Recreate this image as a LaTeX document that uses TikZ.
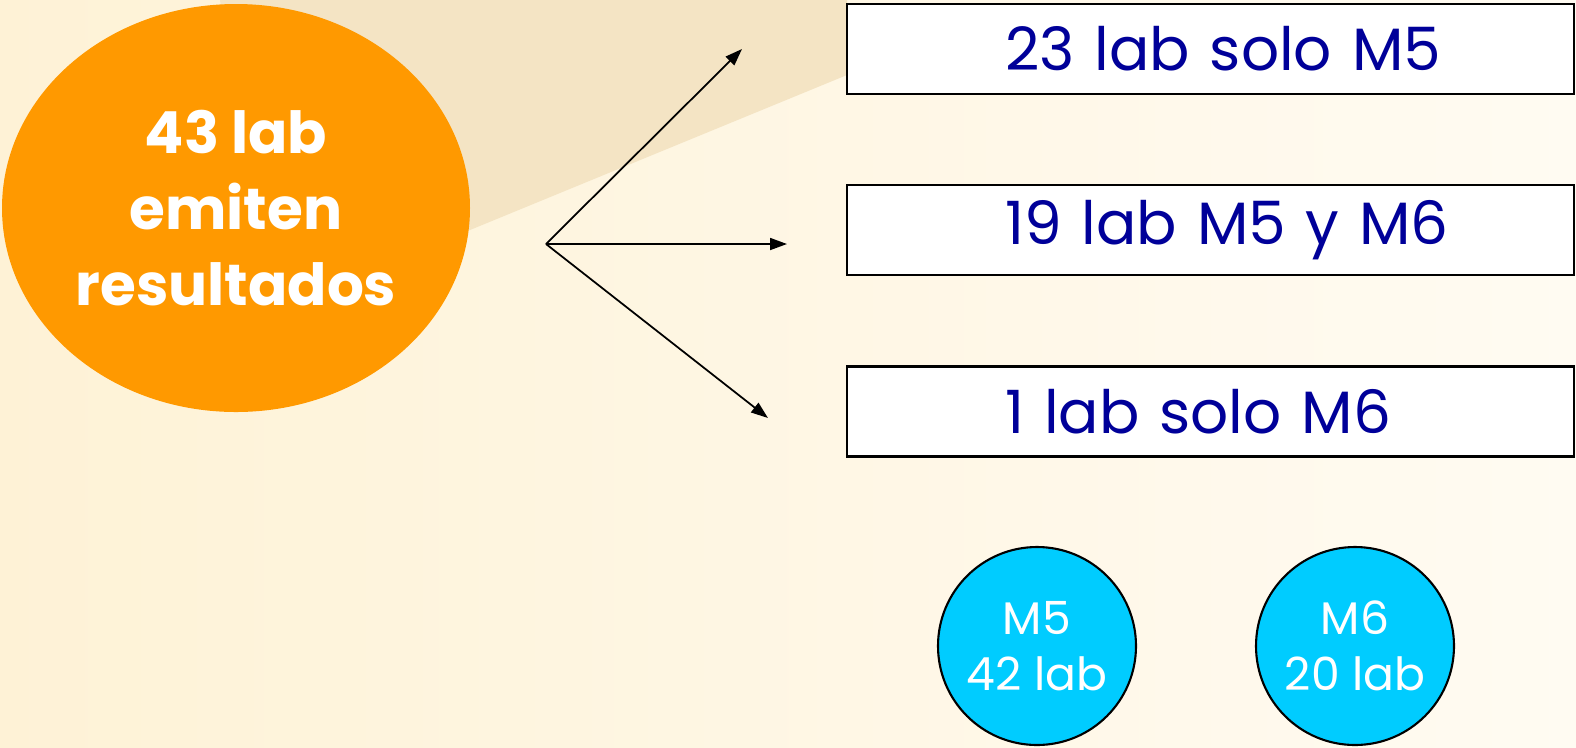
\documentclass[tikz,border=0pt]{standalone}
\usepackage{fontspec}
\setmainfont{Poppins}
\usepackage{tikz}
\usetikzlibrary{arrows.meta, positioning, shapes.geometric}
\usepackage{xcolor}
\definecolor{bgcream}{RGB}{254,242,214}
\definecolor{bgwhite}{RGB}{255,251,242}
\definecolor{bgtan}{RGB}{244,228,196}
\definecolor{orangefill}{RGB}{255,153,0}
\definecolor{labblue}{RGB}{0,0,153}
\definecolor{cyanfill}{RGB}{0,204,255}

\begin{document}
\begin{tikzpicture}[
    labbox/.style={rectangle, draw, fill=white, line width=0.6pt, minimum width=7.27cm, minimum height=0.9cm,
        text width=6.27cm, inner xsep=0.5cm, align=left, text=labblue, font=\fontsize{17}{20}\selectfont,
        execute at begin node={\hspace*{1.08cm}}},
    method/.style={circle, draw, line width=0.6pt, fill=cyanfill, minimum size=1.98cm, inner sep=0pt,
        align=center, text=white, font=\fontsize{13}{16}\selectfont},
    fan/.style={line width=0.5pt, -{Triangle[length=0.17cm, width=0.12cm]}}
]

% Background
\useasboundingbox (0,0) rectangle (15.76,-7.47);
\shade[left color=bgcream, right color=bgwhite] (0,0) rectangle (15.76,-7.47);
\fill[bgtan] (2.2,0) -- (8.47,0) -- (8.47,-0.75) -- (4.7,-2.3) -- (2.6,-2.7) -- cycle;

% Total
\node[ellipse, fill=orangefill, minimum width=4.68cm, minimum height=4.08cm, inner sep=0pt, align=center,
    text=white, font=\bfseries\fontsize{16.5}{21.5}\selectfont] (total) at (2.36,-2.08) {43 lab\\emiten\\resultados};

% Groups
\node[labbox] (solo5) at (12.105,-0.49) {23 lab solo M5};
\node[labbox] (both) at (12.105,-2.30) {19 lab M5 y M6};
\node[labbox] (solo6) at (12.105,-4.115) {1 lab solo M6};

% Methods
\node[method] (m5) at (10.37,-6.46) {M5\\42 lab};
\node[method] (m6) at (13.55,-6.46) {M6\\20 lab};

% Arrows
\coordinate (fork) at (5.46,-2.44);
\coordinate (tipA) at (7.42,-0.49);
\coordinate (tipB) at (7.87,-2.44);
\coordinate (tipC) at (7.68,-4.18);
\draw[fan] (fork) -- (tipA);
\draw[fan] (fork) -- (tipB);
\draw[fan] (fork) -- (tipC);

\end{tikzpicture}
\end{document}
